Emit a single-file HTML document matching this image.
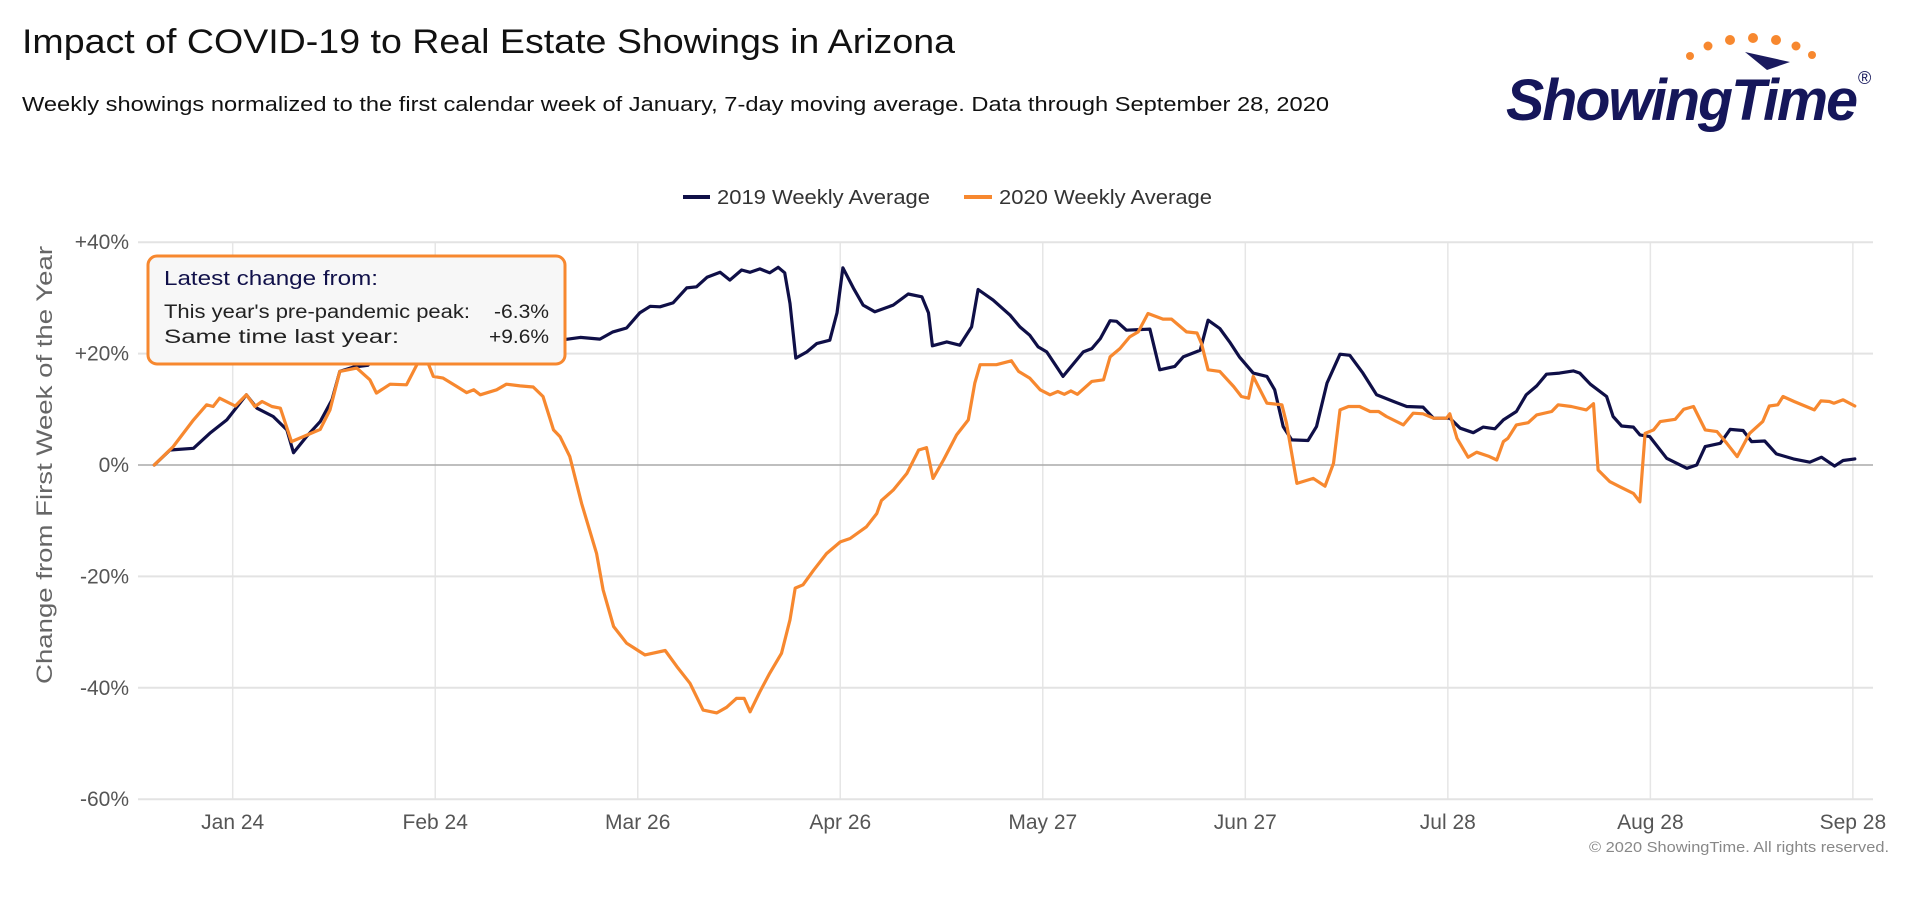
<!DOCTYPE html>
<html><head><meta charset="utf-8"><style>
body{margin:0;background:#fff;width:1920px;height:900px;overflow:hidden;font-family:"Liberation Sans",sans-serif;}
svg{display:block}
</style></head><body>
<svg id="chart" width="1920" height="900" xmlns="http://www.w3.org/2000/svg">
<text x="22" y="53" font-size="34" fill="#111" textLength="933" lengthAdjust="spacingAndGlyphs">Impact of COVID-19 to Real Estate Showings in Arizona</text>
<text x="22" y="111" font-size="20" fill="#111" textLength="1307" lengthAdjust="spacingAndGlyphs">Weekly showings normalized to the first calendar week of January, 7-day moving average. Data through September 28, 2020</text>
<g>
<g fill="#f7882f">
<circle cx="1690" cy="56" r="4"/><circle cx="1708" cy="46" r="4.5"/><circle cx="1730" cy="40" r="5"/><circle cx="1753" cy="38" r="5"/><circle cx="1776" cy="40" r="5"/><circle cx="1796" cy="46" r="4.5"/><circle cx="1812" cy="55" r="4"/>
</g>
<path d="M1745 52 L1790 62 L1767 70 Z" fill="#1a1a5e"/>
<text x="1506" y="120" font-size="58" font-weight="bold" font-style="italic" fill="#15165a" letter-spacing="-2" textLength="350" lengthAdjust="spacingAndGlyphs">ShowingTime</text>
<text x="1858" y="84" font-size="18" fill="#15165a">®</text>
</g>
<g id="legend">
<g><line x1="683" y1="197" x2="710" y2="197" stroke="#0f0f47" stroke-width="4"/><text x="717" y="204" font-size="20" fill="#333" textLength="213" lengthAdjust="spacingAndGlyphs">2019 Weekly Average</text></g>
<g><line x1="964" y1="197" x2="992" y2="197" stroke="#f7882f" stroke-width="4"/><text x="999" y="204" font-size="20" fill="#333" textLength="213" lengthAdjust="spacingAndGlyphs">2020 Weekly Average</text></g>
</g>
<g id="grid"></g><g id="axes"></g><g id="series"></g>
<g>
<rect x="148" y="256" width="417" height="108" rx="9" fill="#f7f7f7" stroke="#f7882f" stroke-width="3"/>
<text x="164" y="285" font-size="20" fill="#11114a" textLength="214" lengthAdjust="spacingAndGlyphs">Latest change from:</text>
<text x="164" y="318" font-size="19" fill="#222" textLength="306" lengthAdjust="spacingAndGlyphs">This year's pre-pandemic peak:</text>
<text x="549" y="318" font-size="19" fill="#222" text-anchor="end" textLength="55" lengthAdjust="spacingAndGlyphs">-6.3%</text>
<text x="164" y="343" font-size="19" fill="#222" textLength="235" lengthAdjust="spacingAndGlyphs">Same time last year:</text>
<text x="549" y="343" font-size="19" fill="#222" text-anchor="end" textLength="60" lengthAdjust="spacingAndGlyphs">+9.6%</text>
</g>
<text x="1889" y="852" font-size="15" fill="#888" text-anchor="end" textLength="300" lengthAdjust="spacingAndGlyphs">© 2020 ShowingTime. All rights reserved.</text>
</svg>
<script>
const yTicks=[40,20,0,-20,-40,-60];
const yTickLabels=["+40%","+20%","0%","-20%","-40%","-60%"];
const xTickDays=[12,43,74,105,136,167,198,229,260];
const xTickLabels=["Jan 24","Feb 24","Mar 26","Apr 26","May 27","Jun 27","Jul 28","Aug 28","Sep 28"];
const days2019=[0,2.4,6,8.5,11.1,14.1,15.7,18.2,20.3,21.3,23.3,25.4,27.2,28.4,30.5,32.7,35,40,45,50,55,60,62.1,65.2,68.2,70.2,72.3,74.3,75.9,77.4,79.4,81.5,83,84.6,86.6,88.1,89.9,91.2,92.7,94.2,95.5,96.5,97.3,98.2,99.9,101.4,103.4,104.5,105.4,107,108.5,110.3,113.1,115.4,117.5,118.5,119.1,121.3,123.3,125.1,126.1,128.4,131,132.5,134,135.3,136.6,139.1,142.2,143.5,144.8,146.3,147.3,148.8,152.4,153.9,156.2,157.5,160.1,161.3,163.1,164.6,166.1,168.2,170.3,171.5,172.8,174.1,176.6,177.9,179.5,181.5,183,185,187.1,189.7,191.7,194.2,195.8,198.3,199.9,201.9,203.4,205.2,206.5,208.5,210,211.6,213.1,215.1,217.2,218.2,219.8,222.3,223.3,224.6,226.4,227.4,228.9,231.5,234.6,236.1,237.4,239.7,241.2,243.2,244.5,246.5,248.3,250.9,253.4,255.2,257.2,258.5,260.3];
const values2019=[0,2.7,3,5.7,8.1,12.6,10.2,8.7,6.3,2.2,5.1,7.8,11.7,16.8,17.6,17.9,21,22,23,22.5,23,22.5,22.4,22.9,22.6,23.9,24.6,27.3,28.5,28.4,29.1,31.8,32,33.7,34.6,33.2,35,34.6,35.2,34.5,35.5,34.5,29,19.2,20.3,21.8,22.4,27.3,35.4,31.8,28.7,27.5,28.7,30.7,30.2,27.3,21.4,22.1,21.5,24.8,31.5,29.6,26.9,24.8,23.3,21.2,20.3,15.9,20.3,20.9,22.7,25.9,25.8,24.2,24.4,17.1,17.7,19.4,20.6,26,24.5,22.1,19.4,16.5,15.9,13.5,6.9,4.5,4.4,6.9,14.7,19.9,19.7,16.5,12.6,11.4,10.5,10.4,8.4,8.4,6.6,5.8,6.8,6.5,8.1,9.6,12.6,14.2,16.3,16.5,16.9,16.5,14.5,12.3,8.7,7,6.8,5.4,5.1,1.2,-0.6,0,3.3,3.9,6.4,6.2,4.2,4.3,2,1.1,0.5,1.4,-0.2,0.8,1.1];
const days2020=[0,2.9,6,8,9,10,12.4,14.1,15.4,16.5,18,19.3,21,22.8,25.4,26.9,28.4,31,33,34,36.1,38.6,40.2,41.5,42.7,44.2,46.3,47.8,48.9,49.9,52.4,53.9,56,58,59.5,61.1,62.1,63.6,65.4,67.7,68.7,70.3,72.3,75.1,78.2,80,82,84,86.1,87.6,89.1,90.3,91.2,92.7,94.2,96,97.3,98.1,99.3,100.9,102.9,105,106.5,109,110.6,111.3,113.1,115.2,117,118.2,119.2,120.8,122.8,124.6,125.6,126.4,128.9,131.2,132.3,134,135.6,137.1,138.3,139.3,140.3,141.3,143.5,145.3,146.3,147.8,149.3,150.6,152.1,154.4,155.7,158,159.6,160.3,161.3,163.1,165.2,166.4,167.5,168.2,170.3,172.6,173.3,174.9,177.4,179.2,180.5,181.5,182.8,184.5,186.1,187.4,188.6,191.2,192.7,194.2,195.8,197.8,198.3,199.4,201.1,202.4,204.2,205.5,206.5,207.2,208.5,210.3,211.6,213.9,214.9,216.9,219.2,220.3,221,222.8,224.3,226.4,227.4,228.2,229.5,230.5,232.8,234.1,235.6,237.4,239.2,240.7,242.3,244.2,246.2,247.2,248.5,249.3,251,254.1,255.1,256.4,257.1,258.5,260.3];
const values2020=[0,3.3,8.1,10.8,10.5,12,10.6,12.6,10.5,11.4,10.5,10.2,4.2,5.1,6.4,9.9,16.8,17.4,15.3,12.9,14.5,14.4,18,19.5,15.9,15.6,14.1,13,13.5,12.6,13.5,14.5,14.2,14,12.3,6.3,5.1,1.5,-6.9,-15.9,-22.4,-29,-32,-34.1,-33.3,-36.2,-39.2,-44,-44.5,-43.5,-41.9,-41.9,-44.3,-40.7,-37.4,-33.8,-27.8,-22.1,-21.5,-18.9,-15.9,-13.8,-13.2,-11.1,-8.7,-6.4,-4.5,-1.5,2.7,3.1,-2.4,0.9,5.4,8.1,14.7,18,18,18.7,16.8,15.6,13.5,12.6,13.2,12.7,13.3,12.7,15,15.3,19.4,20.9,23,23.9,27.2,26.2,26.2,23.9,23.7,21.8,17.1,16.8,14.1,12.3,12,15.9,11.1,10.8,7.5,-3.3,-2.4,-3.8,0.3,9.9,10.5,10.5,9.6,9.6,8.7,7.2,9.3,9.2,8.4,8.4,9.2,4.8,1.4,2.3,1.6,0.9,4.2,4.8,7.2,7.6,9,9.6,10.8,10.5,9.9,11,-0.9,-3,-3.9,-5.1,-6.6,5.7,6.3,7.8,8.2,10,10.5,6.3,6,3.9,1.5,5.7,7.8,10.6,10.8,12.3,11.4,9.9,11.5,11.4,11.1,11.7,10.6];

const NS="http://www.w3.org/2000/svg";
const X0=154.3, PX_PER_DAY=6.533, Y0=465, PX_PER_PCT=5.57, PLOT_L=138, PLOT_R=1873;
function xs(d){return X0+d*PX_PER_DAY;}
function ys(v){return Y0-v*PX_PER_PCT;}
const grid=document.getElementById('grid'), axes=document.getElementById('axes'), series=document.getElementById('series');
xTickDays.forEach((d,i)=>{
  const l=document.createElementNS(NS,'line');
  l.setAttribute('x1',xs(d));l.setAttribute('x2',xs(d));l.setAttribute('y1',ys(40));l.setAttribute('y2',ys(-60));
  l.setAttribute('stroke','#e6e6e6');l.setAttribute('stroke-width','1.5');
  
  
  grid.appendChild(l);
  const t=document.createElementNS(NS,'text');
  t.setAttribute('x',xs(d));t.setAttribute('y',829);t.setAttribute('text-anchor','middle');
  t.setAttribute('font-size','21');t.setAttribute('fill','#555');t.textContent=xTickLabels[i];
  
  
  axes.appendChild(t);
});
yTicks.forEach((v,i)=>{
  const l=document.createElementNS(NS,'line');
  l.setAttribute('x1',PLOT_L);l.setAttribute('x2',PLOT_R);l.setAttribute('y1',ys(v));l.setAttribute('y2',ys(v));
  l.setAttribute('stroke',v===0?'#aaaaaa':'#e3e3e3');l.setAttribute('stroke-width',v===0?'1.5':'2');
  
  
  grid.appendChild(l);
  const t=document.createElementNS(NS,'text');
  t.setAttribute('x',129);t.setAttribute('y',ys(v)+7);t.setAttribute('text-anchor','end');
  t.setAttribute('font-size','21');t.setAttribute('fill','#555');t.textContent=yTickLabels[i];
  
  
  axes.appendChild(t);
});
const yt=document.createElementNS(NS,'text');
yt.setAttribute('transform','translate(52,465) rotate(-90)');yt.setAttribute('text-anchor','middle');
yt.setAttribute('font-size','22');yt.setAttribute('fill','#666');
yt.setAttribute('textLength','438');yt.setAttribute('lengthAdjust','spacingAndGlyphs');
yt.textContent='Change from First Week of the Year';


axes.appendChild(yt);
function drawLine(days,vals,color,name){
  const p=document.createElementNS(NS,'polyline');
  p.setAttribute('points',days.map((d,i)=>xs(d).toFixed(1)+','+ys(vals[i]).toFixed(1)).join(' '));
  p.setAttribute('fill','none');p.setAttribute('stroke',color);p.setAttribute('stroke-width','3.2');
  p.setAttribute('stroke-linejoin','round');p.setAttribute('stroke-linecap','round');
  
  
  series.appendChild(p);
}
drawLine(days2019,values2019,'#0f0f47','line-2019');
drawLine(days2020,values2020,'#f7882f','line-2020');
</script>
</body></html>
